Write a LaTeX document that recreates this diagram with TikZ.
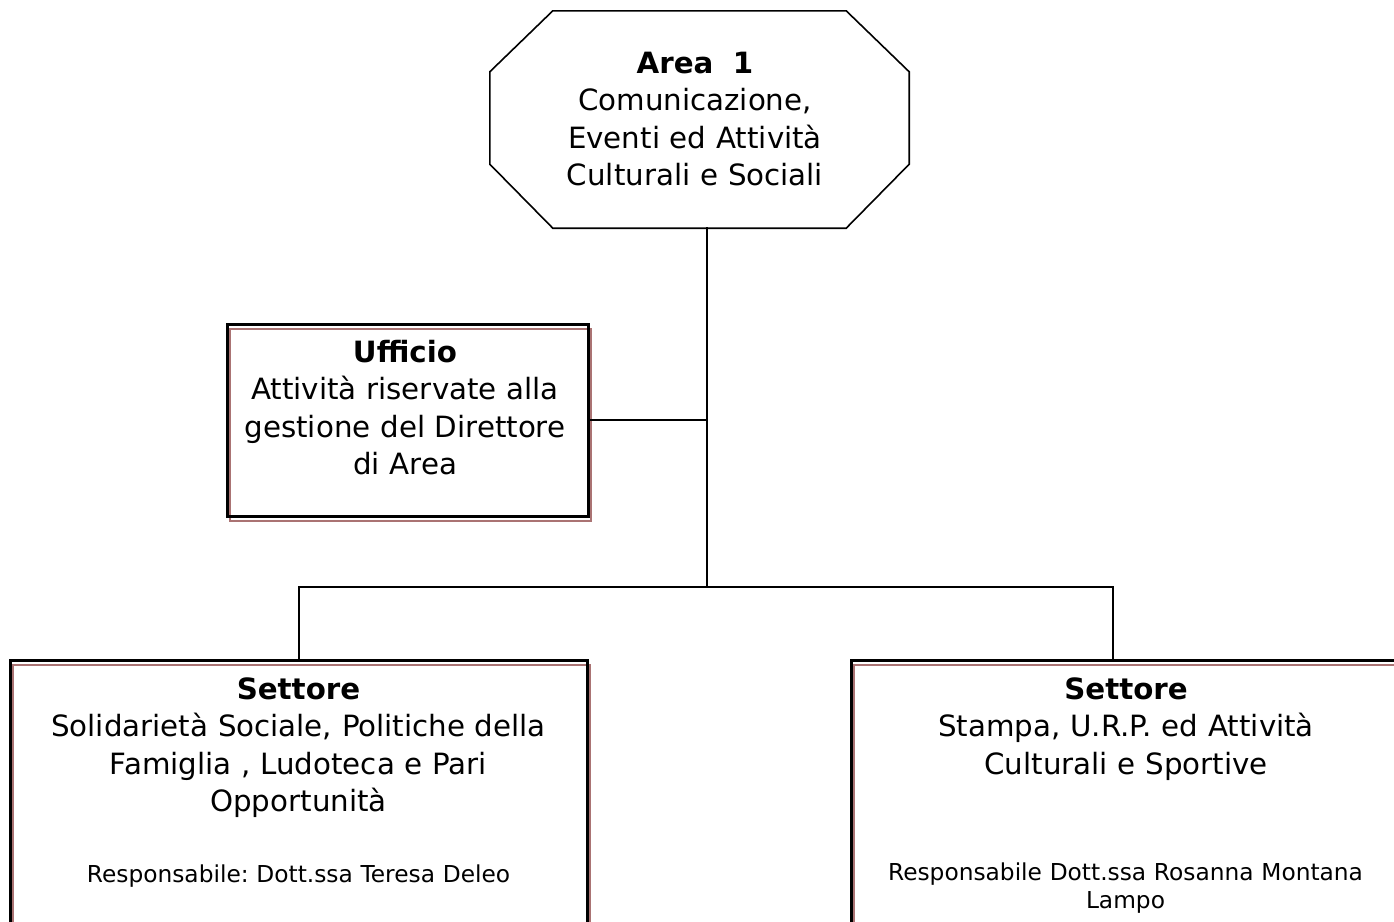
\documentclass[tikz,border=0pt]{standalone}
\usepackage{fontspec}
\setmainfont{DejaVu Sans}
\frenchspacing
\definecolor{shadowred}{RGB}{170,115,115}
\begin{document}
\begin{tikzpicture}[x=1pt,y=-1pt,
  conn/.style={line width=2pt, line cap=rect},
  octline/.style={line width=1.6pt, line join=miter},
  framebox/.style={rectangle, draw=black, line width=2.8pt, inner sep=0pt,
    anchor=north west,
    preaction={draw=shadowred, line width=2pt,
      transform canvas={xshift=3pt, yshift=-5pt}}},
  bigtext/.style={font=\fontsize{29.3}{37.5}\selectfont, align=center,
    text width=560pt, inner sep=0pt, anchor=base},
  smalltext/.style={font=\fontsize{23.3}{28}\selectfont, align=center,
    text width=560pt, inner sep=0pt, anchor=base}]

\useasboundingbox (0,0) rectangle (1394,921);
\clip (0,0) rectangle (1394,921);

% top unit: octagon drawn around an invisible frame node
\node (area) [rectangle, minimum width=419pt, minimum height=217pt,
  inner sep=0pt] at (699.5,119.5) {};
\draw[octline] ([xshift=63pt]area.north west) -- ([xshift=-63pt]area.north east)
  -- ([yshift=-61pt]area.north east) -- ([yshift=64pt]area.south east)
  -- ([xshift=-63pt]area.south east) -- ([xshift=63pt]area.south west)
  -- ([yshift=64pt]area.south west) -- ([yshift=-61pt]area.north west) -- cycle;

% boxes
\node (uff) [framebox, minimum width=361pt, minimum height=192pt] at (226,323) {};
\node (left) [framebox, minimum width=577pt, minimum height=320pt] at (9,659) {};
\node (right) [framebox, minimum width=600pt, minimum height=320pt] at (850,659) {};

% connectors
\coordinate (split) at (707,587);
\coordinate (rdrop) at (1113,659);
\draw[conn] (split |- area.south) -- (split);
\draw[conn] (uff.east) -- (uff.east -| split);
\draw[conn] (left.north) |- (split) -| (rdrop);

% texts
\node (areatxt) [bigtext] at (695,73)
  {\textbf{Area\ \ 1}\\Comunicazione,\\Eventi ed Attività\\Culturali e Sociali};
\node (ufftxt) [bigtext] at (405,362)
  {\textbf{Ufficio}\\Attività riservate alla\\gestione del Direttore\\di Area};
\node (lefttxt) [bigtext] at (298.5,699)
  {\textbf{Settore}\\Solidarietà Sociale, Politiche della\\Famiglia , Ludoteca e Pari\\Opportunità};
\node (leftresp) [smalltext] at (298.5,882)
  {Responsabile: Dott.ssa Teresa Deleo};
\node (righttxt) [bigtext] at (1126,699)
  {\textbf{Settore}\\Stampa, U.R.P. ed Attività\\Culturali e Sportive};
\node (rightresp) [smalltext] at (1125.5,880)
  {Responsabile Dott.ssa Rosanna Montana\\Lampo};
\end{tikzpicture}
\end{document}
